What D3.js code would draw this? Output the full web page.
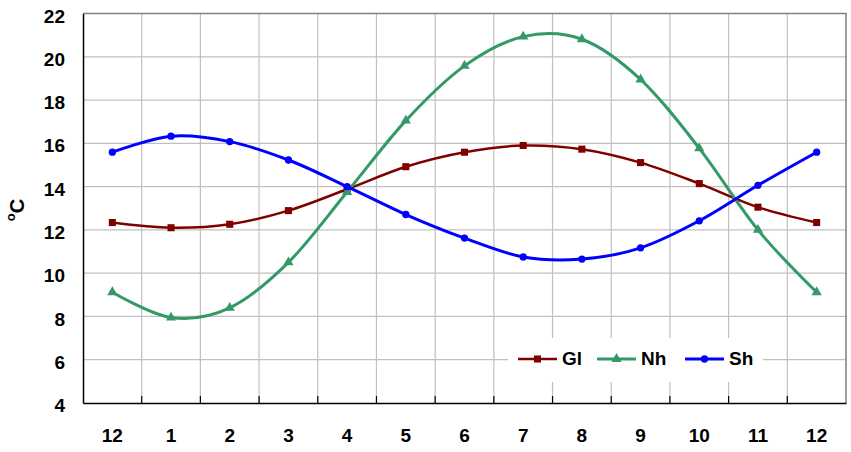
<!DOCTYPE html>
<html><head><meta charset="utf-8">
<script src="https://cdn.jsdelivr.net/npm/d3@7"></script>
<style>body{margin:0;background:#fff}svg{display:block}text{font-family:"Liberation Sans",Arial,sans-serif;font-weight:bold;fill:#000}</style>
</head><body><svg id="c" width="851" height="452"></svg>
<script>
const months = ["12","1","2","3","4","5","6","7","8","9","10","11","12"];
const gl = [12.34,12.1,12.26,12.89,13.88,14.92,15.59,15.9,15.73,15.11,14.14,13.05,12.34];
const nh = [9.12,7.95,8.4,10.5,13.75,17.05,19.58,20.93,20.81,18.95,15.77,12.0,9.12];
const sh = [15.59,16.33,16.08,15.23,14.0,12.71,11.62,10.75,10.65,11.17,12.42,14.06,15.59];
const yTicks = [4,6,8,10,12,14,16,18,20,22];
const seriesNames = ["Gl","Nh","Sh"];

const svg = d3.select("#c");
const L=83, R=846, T=13.5, B=403;
const idx = months.map((m,i)=>i);
const x = d3.scaleBand().domain(idx).range([L,R]);
const y = d3.scaleLinear().domain([4,22]).range([B,T]);
const cx = i => x(i)+x.bandwidth()/2;

// grid
const g = svg.append("g");
g.selectAll(".hy").data(yTicks.slice(1,-1)).join("line")
  .attr("x1",L).attr("x2",R).attr("y1",d=>y(d)).attr("y2",d=>y(d))
  .attr("stroke","#c0c0c0").attr("stroke-width",1.2);
g.selectAll(".vx").data(idx.slice(1)).join("line")
  .attr("x1",d=>x(d)).attr("x2",d=>x(d)).attr("y1",T).attr("y2",B)
  .attr("stroke","#c0c0c0").attr("stroke-width",1.2);
// border
svg.append("path").attr("d",`M${L},${T}H${R}V${B}`).attr("fill","none").attr("stroke","#808080").attr("stroke-width",1.5);

// legend background
svg.append("rect").attr("x",508).attr("y",338).attr("width",255).attr("height",44).attr("fill","#fff");

// axes
const yAxis = d3.axisLeft(y).tickValues(yTicks).tickSize(0).tickPadding(18);
const ya = svg.append("g").attr("transform",`translate(${L},0)`).call(yAxis);
ya.select(".domain").attr("stroke","#000").attr("stroke-width",1.5);
ya.selectAll("text").attr("font-size",19).attr("font-family","Liberation Sans, Arial, sans-serif").attr("font-weight","bold").attr("dy","0.45em");

const xAxis = d3.axisBottom(x).tickSize(0).tickFormat(i=>months[i]).tickPadding(26);
const xa = svg.append("g").attr("transform",`translate(0,${B})`).call(xAxis);
xa.select(".domain").attr("stroke","#000").attr("stroke-width",1.5);
xa.selectAll("text").attr("font-size",19).attr("font-family","Liberation Sans, Arial, sans-serif").attr("font-weight","bold");
// inner tick marks at band boundaries
svg.append("g").selectAll("line").data(idx.slice(1)).join("line")
  .attr("x1",d=>x(d)).attr("x2",d=>x(d)).attr("y1",B-7).attr("y2",B)
  .attr("stroke","#000").attr("stroke-width",1.2);

// y label: superscript o + C
const yl = svg.append("text").attr("transform","translate(24,210) rotate(-90)").attr("text-anchor","middle");
yl.append("tspan").attr("font-size",13).attr("dy",-9).text("o");
yl.append("tspan").attr("font-size",20).attr("dy",9).text("C");

const line = d3.line().x((d,i)=>cx(i)).y(d=>y(d)).curve(d3.curveCardinal.tension(0));
const specs = [
  {name:"Gl", data:gl, color:"#800000", w:2.5, sym:d3.symbolSquare, size:50},
  {name:"Nh", data:nh, color:"#339966", w:3, sym:d3.symbolTriangle, size:45},
  {name:"Sh", data:sh, color:"#0000ff", w:3, sym:d3.symbolCircle, size:42}
];
specs.forEach(s=>{
  const gg = svg.append("g");
  gg.append("path").attr("d",line(s.data)).attr("fill","none").attr("stroke",s.color).attr("stroke-width",s.w);
  gg.selectAll("path.m").data(s.data).join("path").attr("class","m")
    .attr("transform",(d,i)=>`translate(${cx(i)},${y(d)})`)
    .attr("d",d3.symbol().type(s.sym).size(s.size)).attr("fill",s.color);
});

// legend
const lx = [518,597,685];
specs.forEach((s,k)=>{
  const gg = svg.append("g");
  gg.append("line").attr("x1",lx[k]).attr("x2",lx[k]+39).attr("y1",359).attr("y2",359).attr("stroke",s.color).attr("stroke-width",s.w);
  gg.append("path").attr("transform",`translate(${lx[k]+19.5},359)`).attr("d",d3.symbol().type(s.sym).size(s.size)).attr("fill",s.color);
  gg.append("text").attr("x",lx[k]+44).attr("y",365).attr("font-size",19).text(seriesNames[k]);
});
</script></body></html>
